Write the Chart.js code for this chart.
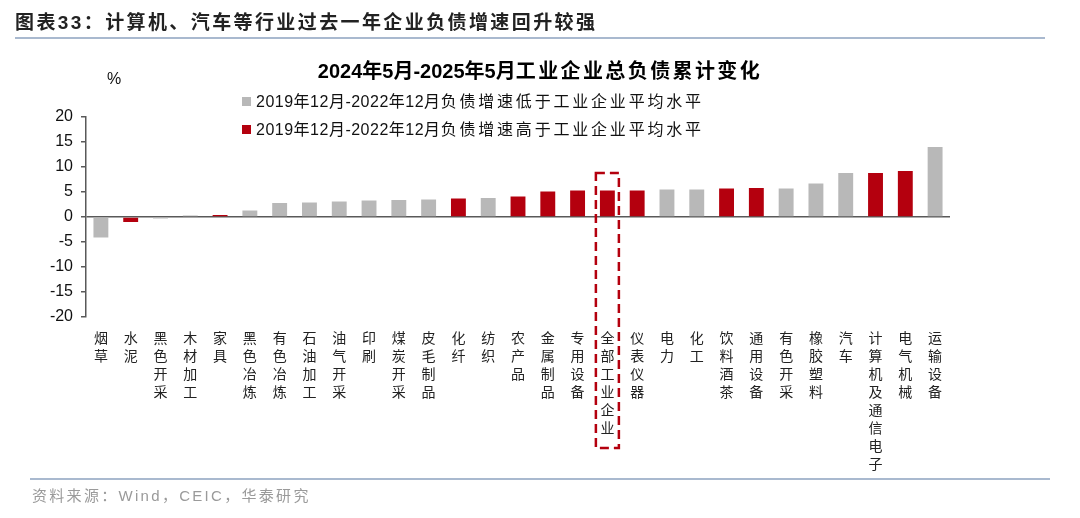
<!DOCTYPE html>
<html>
<head>
<meta charset="utf-8">
<script src="https://cdn.jsdelivr.net/npm/chart.js@4.4.1/dist/chart.umd.min.js"></script>
<style>
	html, body { margin: 0; padding: 0; background: #fff; }
	#wrap {
		position: relative;
		width: 1080px;
		height: 518px;
		overflow: hidden;
		font-family: "Liberation Sans", "Noto Sans CJK SC", sans-serif;
		color: #111;
	}
	#chart { position: absolute; left: 0; top: 0; }
	#head {
		position: absolute; left: 15px; top: 7px;
		font-size: 19px; font-weight: bold; letter-spacing: 2.4px; color: #222;
	}
	#title {
		position: absolute; left: 0; width: 1080px; top: 55px; text-align: center;
		font-size: 20px; font-weight: bold; color: #000; white-space: nowrap;
	}
	#title span { letter-spacing: 2.4px; }
	.rule { position: absolute; height: 2px; background: #a9b9cf; }
	#unit { position: absolute; left: 107px; top: 70px; font-size: 16px; }
	.leg { position: absolute; left: 242px; font-size: 16px; line-height: 20px; white-space: nowrap; letter-spacing: 0.5px; }
	.leg i { display: inline-block; width: 9px; height: 9px; margin-right: 5px; vertical-align: 1px; }
	.leg span { letter-spacing: 2.8px; }
	#src {
		position: absolute; left: 32px; top: 484px;
		font-size: 15px; color: #9a9a9a; letter-spacing: 2.3px;
	}
</style>
</head>
<body>
<div id="wrap">
	<canvas id="chart" width="1080" height="518"></canvas>
	<div id="head">图表33：计算机、汽车等行业过去一年企业负债增速回升较强</div>
	<div class="rule" style="left:15px; top:37px; width:1030px;"></div>
	<div id="title">2024年5月-2025年5月<span>工业企业总负债累计变化</span></div>
	<div id="unit">%</div>
	<div class="leg" style="top:92px;"><i style="background:#b8b8b8"></i>2019年12月-2022年12月<span>负债增速低于工业企业平均水平</span></div>
	<div class="leg" style="top:120px;"><i style="background:#b4000e"></i>2019年12月-2022年12月<span>负债增速高于工业企业平均水平</span></div>
	<div class="rule" style="left:30px; top:478px; width:1020px;"></div>
	<div id="src">资料来源：Wind，CEIC，华泰研究</div>
</div>
<script>
;(function () {
	"use strict"

	var LOW_LABEL = "2019年12月-2022年12月负债增速低于工业企业平均水平"
	var HIGH_LABEL = "2019年12月-2022年12月负债增速高于工业企业平均水平"

	var categories = [
		"烟草", "水泥", "黑色开采", "木材加工", "家具", "黑色冶炼", "有色冶炼",
		"石油加工", "油气开采", "印刷", "煤炭开采", "皮毛制品", "化纤", "纺织",
		"农产品", "金属制品", "专用设备", "全部工业企业", "仪表仪器", "电力", "化工",
		"饮料酒茶", "通用设备", "有色开采", "橡胶塑料", "汽车", "计算机及通信电子",
		"电气机械", "运输设备",
	]
	// cumulative change in total liabilities, %
	var values = [
		-4.1, -1.0, -0.3, 0.3, 0.4, 1.3, 2.8,
		2.9, 3.1, 3.3, 3.4, 3.5, 3.7, 3.8,
		4.1, 5.1, 5.3, 5.3, 5.3, 5.5, 5.5,
		5.7, 5.8, 5.7, 6.7, 8.8, 8.8,
		9.2, 14.0,
	]
	// "H" = 2019-2022 growth above the industry average, "L" = below
	var groups = [
		"L", "H", "L", "L", "H", "L", "L",
		"L", "L", "L", "L", "L", "H", "L",
		"H", "H", "H", "H", "H", "L", "L",
		"H", "H", "L", "L", "L", "H",
		"H", "L",
	]
	var yTicks = [-20, -15, -10, -5, 0, 5, 10, 15, 20]

	var RED = "#b4000e"
	var GRAY = "#b8b8b8"
	var AXIS = "#595959"
	var HIGHLIGHT = "全部工业企业"
	var BOX_TOP = 8.8

	function pick(code) {
		return values.map(function (v, i) {
			return groups[i] === code ? v : null
		})
	}

	// dashed frame round the all-industry bar and its label
	var highlightBox = {
		id: "highlightBox",
		afterDatasetsDraw: function (chart) {
			var x = chart.scales.x
			var y = chart.scales.y
			var ctx = chart.ctx
			var cx = x.getPixelForValue(categories.indexOf(HIGHLIGHT))
			var top = y.getPixelForValue(BOX_TOP)
			var bottom = chart.chartArea.bottom + 131
			ctx.save()
			ctx.strokeStyle = RED
			ctx.lineWidth = 2.5
			ctx.setLineDash([9, 5])
			ctx.strokeRect(cx - 11.5, top, 23, bottom - top)
			ctx.restore()
		},
	}

	new Chart(document.getElementById("chart"), {
		type: "bar",
		data: {
			labels: categories.map(function (c) { return c.split("") }),
			datasets: [
				{ label: LOW_LABEL, data: pick("L"), backgroundColor: GRAY },
				{ label: HIGH_LABEL, data: pick("H"), backgroundColor: RED },
			],
		},
		plugins: [highlightBox],
		options: {
			responsive: false,
			animation: false,
			devicePixelRatio: 1,
			layout: { padding: { left: 0, right: 130, top: 117, bottom: 0 } },
			datasets: { bar: { grouped: false, barPercentage: 0.5, categoryPercentage: 1 } },
			plugins: {
				legend: { display: false },
				tooltip: { enabled: false },
			},
			scales: {
				x: {
					grid: { display: false, drawTicks: false },
					border: { display: false },
					ticks: {
						autoSkip: false,
						maxRotation: 0,
						minRotation: 0,
						padding: 12,
						color: "#222",
						font: { family: '"Noto Sans CJK SC", sans-serif', size: 14, lineHeight: 18 / 14 },
					},
					afterFit: function (s) { s.height = 201 },
				},
				y: {
					min: -20,
					max: 20,
					afterBuildTicks: function (s) {
						s.ticks = yTicks.map(function (v) { return { value: v } })
					},
					ticks: {
						padding: 8,
						color: "#111",
						font: { family: '"Liberation Sans", sans-serif', size: 16 },
					},
					grid: {
						color: function (c) {
							return c.tick && c.tick.value === 0 ? AXIS : "rgba(0,0,0,0)"
						},
						lineWidth: 1.5,
						tickColor: AXIS,
						tickLength: 5,
					},
					border: { display: true, color: AXIS, width: 1.5 },
					afterFit: function (s) { s.width = 86 },
				},
			},
		},
	})
})()
</script>
</body>
</html>
